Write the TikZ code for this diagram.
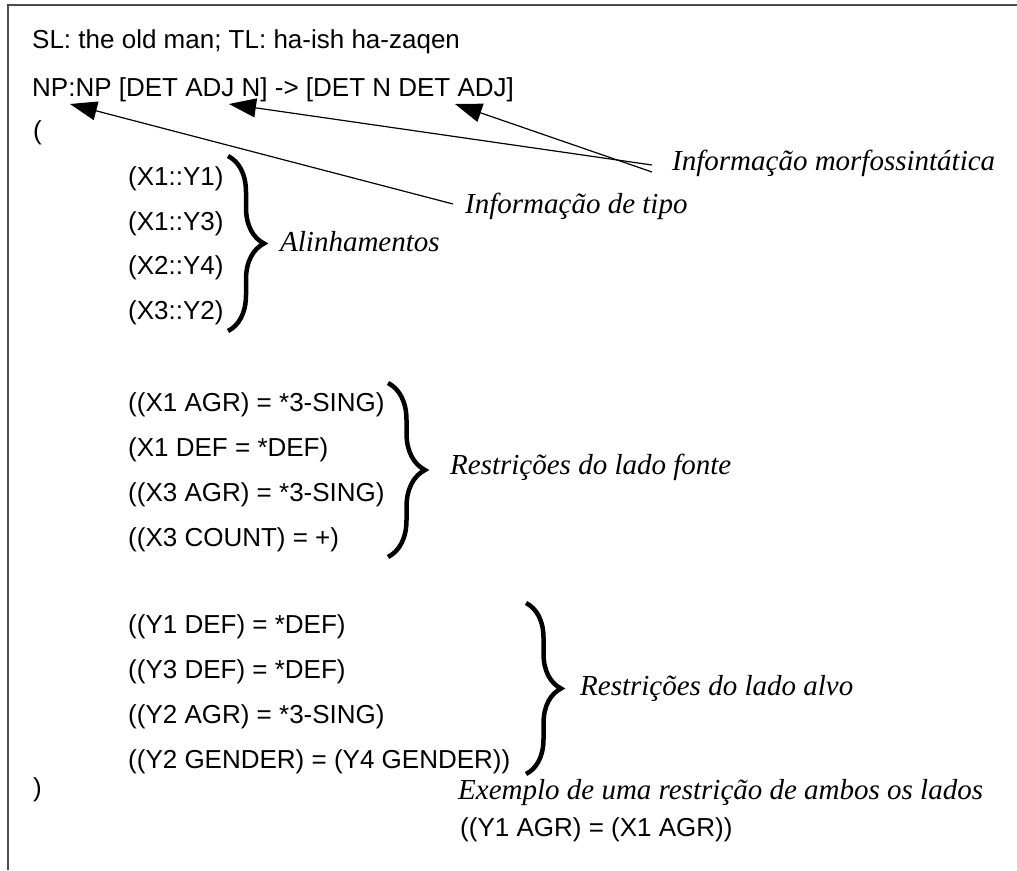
\documentclass[tikz,border=0pt]{standalone}
\usepackage{fontspec}
\setmainfont{Liberation Sans}
\newfontfamily\lblfont{Liberation Serif}
\usetikzlibrary{arrows.meta,decorations.pathreplacing}
\tikzset{
	rule/.style={anchor=west, inner sep=0pt, font=\fontsize{26}{30}\selectfont},
	lbl/.style={anchor=west, inner sep=0pt, font=\lblfont\itshape\fontsize{29}{34}\selectfont},
	brc/.style={decorate, decoration={brace, amplitude=#1}, line width=4.5pt},
	brc/.default=36pt,
	ptr/.style={line width=1.2pt, -{Triangle[length=27pt, width=19pt]}}
}

\begin{document}
\begin{tikzpicture}[x=1pt, y=-1pt]
			%%%%% START %%%%%
			\useasboundingbox (0, 0) rectangle (1017, 870);
			
			\draw[line width=2pt, color=black!70] (8, 870) -- (8, 5) -- (1017, 5);
			
			\node[rule] (sl) at (32, 42) {SL: the old man; TL: ha-ish ha-zaqen};
			\node[rule] (np) at (32, 90) {NP:NP [DET ADJ N] -> [DET N DET ADJ]};
			\node[rule] (open) at (33, 133) {(};
			
			\node[rule] (a1) at (128, 179) {(X1::Y1)};
			\node[rule] (a2) at (128, 224) {(X1::Y3)};
			\node[rule] (a3) at (128, 268) {(X2::Y4)};
			\node[rule] (a4) at (128, 313) {(X3::Y2)};
			\draw[brc] (228, 156) -- (228, 331);
			\node[lbl] (alin) at (280, 242) {Alinhamentos};
			
			\node[rule] (s1) at (128, 405) {((X1 AGR) = *3-SING)};
			\node[rule] (s2) at (128, 450) {(X1 DEF = *DEF)};
			\node[rule] (s3) at (128, 495) {((X3 AGR) = *3-SING)};
			\node[rule] (s4) at (128, 540) {((X3 COUNT) = +)};
			\draw[brc=37pt] (388, 383) -- (388, 557);
			\node[lbl] (fonte) at (450, 467) {Restrições do lado fonte};
			
			\node[rule] (t1) at (128, 627) {((Y1 DEF) = *DEF)};
			\node[rule] (t2) at (128, 672) {((Y3 DEF) = *DEF)};
			\node[rule] (t3) at (128, 717) {((Y2 AGR) = *3-SING)};
			\node[rule] (t4) at (128, 762) {((Y2 GENDER) = (Y4 GENDER))};
			\draw[brc=35pt] (526, 603) -- (526, 774);
			\node[lbl] (alvo) at (580, 688) {Restrições do lado alvo};
			
			\node[rule] (close) at (33, 790) {)};
			\node[lbl] (ambos) at (458, 793) {Exemplo de uma restrição de ambos os lados};
			\node[rule] (both) at (460, 830) {((Y1 AGR) = (X1 AGR))};
			
			% pointers into the NP line
			\node[lbl] (tipo) at (465, 206) {Informação de tipo};
			\node[lbl] (morf) at (672, 163) {Informação morfossintática};
			\coordinate (tNP) at (70, 104);
			\coordinate (tN) at (229, 104);
			\coordinate (tADJ) at (455, 104);
			
			\draw[ptr] ([shift={(-12pt, 2pt)}]tipo.west) -- (tNP);
			\draw[ptr] ([shift={(-20pt, -9pt)}]morf.west) -- (tADJ);
			\draw[ptr] ([shift={(-20pt, -2pt)}]morf.west) -- (tN);
			
			%%%%% END %%%%%
\end{tikzpicture}
\end{document}
